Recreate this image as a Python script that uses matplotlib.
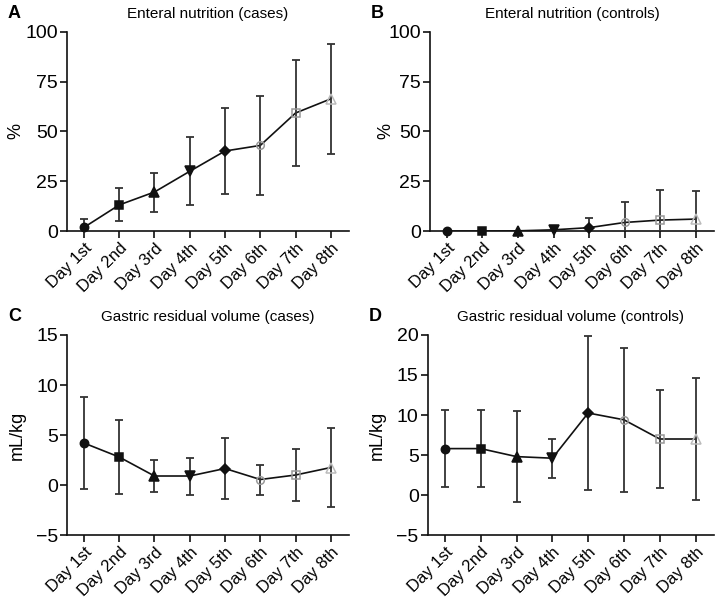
import matplotlib
matplotlib.use("Agg")
import matplotlib.pyplot as plt
import numpy as np

plt.rcParams['font.family'] = ['Liberation Sans', 'DejaVu Sans']

days = ["Day 1st", "Day 2nd", "Day 3rd", "Day 4th", "Day 5th", "Day 6th", "Day 7th", "Day 8th"]

en_cases_mean = [1.8, 13.1, 19.6, 30.0, 40.2, 43.0, 59.3, 66.4]
en_cases_sd = [4.0, 8.3, 9.8, 17.0, 21.4, 24.7, 26.6, 27.8]

en_ctrl_mean = [0.0, 0.0, 0.1, 0.6, 1.7, 4.3, 5.5, 6.0]
en_ctrl_sd = [0.0, 0.0, 0.0, 1.6, 4.7, 10.5, 15.3, 14.2]

grv_cases_mean = [4.2, 2.8, 0.9, 0.9, 1.65, 0.55, 1.0, 1.75]
grv_cases_sd = [4.6, 3.7, 1.6, 1.85, 3.05, 1.5, 2.6, 3.95]

grv_ctrl_mean = [5.8, 5.8, 4.8, 4.6, 10.25, 9.4, 7.0, 7.0]
grv_ctrl_sd = [4.8, 4.8, 5.7, 2.45, 9.6, 9.0, 6.1, 7.6]

panels = [
    ("A", "Enteral nutrition (cases)", "%", en_cases_mean, en_cases_sd, (0, 100), [0, 25, 50, 75, 100]),
    ("B", "Enteral nutrition (controls)", "%", en_ctrl_mean, en_ctrl_sd, (0, 100), [0, 25, 50, 75, 100]),
    ("C", "Gastric residual volume (cases)", "mL/kg", grv_cases_mean, grv_cases_sd, (-5, 15), [-5, 0, 5, 10, 15]),
    ("D", "Gastric residual volume (controls)", "mL/kg", grv_ctrl_mean, grv_ctrl_sd, (-5, 20), [-5, 0, 5, 10, 15, 20]),
]

positions = [
    [0.093, 0.6156, 0.392, 0.3312],
    [0.597, 0.6156, 0.395, 0.3312],
    [0.093, 0.1098, 0.392, 0.3328],
    [0.594, 0.1098, 0.398, 0.3328],
]
label_x = [-0.152, -0.124, -0.147, -0.147]

markers = ['o', 's', '^', 'v', 'D', 'o', 's', '^']
mfc = ['#111111'] * 5 + ['none', 'none', 'none']
mec = ['#111111'] * 5 + ['#999999', '#999999', '#bbbbbb']
msz = [6.0, 5.5, 6.5, 6.5, 5.5, 5.5, 5.5, 6.5]

fig = plt.figure(figsize=(7.2, 6.01), dpi=100)

for pos, lx, (letter, title, ylabel, mean, sd, ylim, yticks) in zip(positions, label_x, panels):
    ax = fig.add_axes(pos)
    x = np.arange(len(days))
    ax.plot(x, mean, color='#111111', lw=1.2, zorder=2)
    for i in range(len(days)):
        if sd[i] > 0:
            ax.errorbar(x[i], mean[i], yerr=sd[i], fmt='none', ecolor='#333333',
                        elinewidth=1.3, capsize=3.2, capthick=1.3, zorder=3)
        ax.plot(x[i], mean[i], marker=markers[i], ms=msz[i],
                mfc=mfc[i], mec=mec[i], mew=1.1, linestyle='none', zorder=4,
                clip_on=False)
    ax.set_xlim(-0.48, 7.52)
    ax.set_ylim(*ylim)
    ax.set_yticks(yticks)
    ax.set_yticklabels([str(t).replace('-', '\u2212') for t in yticks], fontsize=14)
    ax.set_xticks(x)
    ax.set_xticklabels(days, rotation=45, ha='right', rotation_mode='anchor', fontsize=12)
    for s in ['top', 'right']:
        ax.spines[s].set_visible(False)
    for s in ['left', 'bottom']:
        ax.spines[s].set_linewidth(1.2)
        ax.spines[s].set_color('#111111')
    ax.tick_params(direction='out', length=5, width=1.2, color='#111111')
    ax.tick_params(axis='y', pad=1.5)
    ax.tick_params(axis='x', pad=2)
    ax.set_ylabel(ylabel, fontsize=13)
    ax.yaxis.set_label_coords(lx, 0.5)
    ax.set_title(title, fontsize=11, pad=10)
    fig.text(pos[0] - 0.082, pos[1] + pos[3] + 0.03, letter, fontsize=13,
             fontweight='bold', ha='left', va='center')

fig.savefig("out.png", dpi=100)
